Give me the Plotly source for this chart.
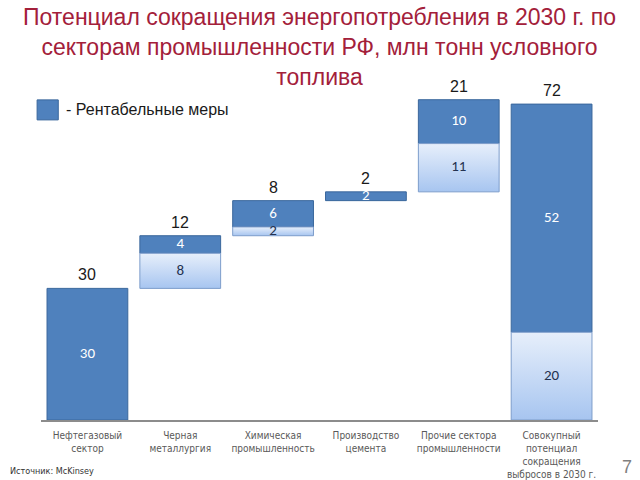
import plotly.graph_objects as go

categories = ["Нефтегазовый<br>сектор", "Черная<br>металлургия", "Химическая<br>промышленность",
              "Производство<br>цемента", "Прочие сектора<br>промышленности",
              "Совокупный<br>потенциал<br>сокращения<br>выбросов в 2030 г."]
light_vals = [0, 8, 2, 0, 11, 20]
dark_vals = [30, 4, 6, 2, 10, 52]
total_labels = [30, 12, 8, 2, 21, 72]

totals = [l + d for l, d in zip(light_vals, dark_vals)]
starts = []
acc = 0
for i, t in enumerate(totals):
    if i == len(totals) - 1:
        starts.append(0)
    else:
        starts.append(acc)
        acc += t
dark_base = [s + l for s, l in zip(starts, light_vals)]
tops = [s + t for s, t in zip(starts, totals)]
light_mid = [s + l / 2 for s, l in zip(starts, light_vals)]
dark_mid = [b + d / 2 for b, d in zip(dark_base, dark_vals)]
xs = list(range(len(categories)))
BAR_W = 0.87

inner_font = "Carlito, Liberation Sans, sans-serif"

fig = go.Figure()
# light (gradient) segments drawn as filled rectangles in data space
for x, s, v in zip(xs, starts, light_vals):
    if not v:
        continue
    x0, x1 = x - BAR_W / 2, x + BAR_W / 2
    fig.add_trace(go.Scatter(
        x=[x0, x1, x1, x0, x0], y=[s, s, s + v, s + v, s],
        mode="lines", fill="toself",
        fillgradient=dict(type="vertical", start=s, stop=s + v,
                          colorscale=[[0, "#A7C5F0"], [1, "#E7EFFB"]]),
        line=dict(color="#7D9DCB", width=1),
        hoverinfo="skip", showlegend=False))
fig.add_trace(go.Bar(
    x=xs, y=dark_vals, base=dark_base, width=BAR_W,
    marker=dict(color="#4F81BD", line=dict(color="#3A679C", width=1)),
    hoverinfo="skip", showlegend=False))
lx = [x for x, v in zip(xs, light_vals) if v]
fig.add_trace(go.Scatter(
    x=lx, y=[m for m, v in zip(light_mid, light_vals) if v], mode="text",
    text=[str(v) for v in light_vals if v], textposition="middle center",
    textfont=dict(family=inner_font, size=15, color="#243250"),
    hoverinfo="skip", showlegend=False))
fig.add_trace(go.Scatter(
    x=xs, y=dark_mid, mode="text", text=[str(v) for v in dark_vals],
    textposition="middle center",
    textfont=dict(family=inner_font, size=15, color="#FFFFFF"),
    hoverinfo="skip", showlegend=False))

for x, t, lab in zip(xs, tops, total_labels):
    fig.add_annotation(x=x, y=t, text=str(lab), showarrow=False, xanchor="center",
                       yanchor="bottom", yshift=3,
                       font=dict(family="Liberation Sans, Arial, sans-serif", size=16, color="#1A1A1A"))

fig.update_layout(
    width=640, height=480,
    margin=dict(l=41, r=42, t=69, b=60, autoexpand=False),
    paper_bgcolor="white", plot_bgcolor="white",
    barmode="overlay",
    xaxis=dict(tickmode="array", tickvals=xs, ticktext=categories, range=[-0.5, 5.5],
               showline=True, linecolor="#8C8C8C", linewidth=1.5, showgrid=False,
               zeroline=False, ticks="", ticklen=0, automargin=False, ticklabelstandoff=5,
               tickfont=dict(family="Liberation Sans Narrow, DejaVu Sans Condensed, sans-serif", size=10, color="#595959")),
    yaxis=dict(range=[0, 80], visible=False, showgrid=False, zeroline=False, automargin=False),
    font=dict(family="Liberation Sans, Arial, sans-serif"),
)

fig.add_annotation(
    text="Потенциал сокращения энергопотребления в 2030 г. по<br>секторам промышленности РФ, млн тонн условного<br>топлива",
    xref="paper", yref="paper", x=0.5, y=1.19, xanchor="center", yanchor="top", showarrow=False,
    font=dict(family="Liberation Sans, Arial, sans-serif", size=23, color="#A3203A"))
fig.add_shape(type="rect", xref="paper", yref="paper", x0=-0.007, x1=0.031, y0=0.855, y1=0.912,
              fillcolor="#4F81BD", line=dict(color="#3A679C", width=1))
fig.add_annotation(text="- Рентабельные меры", xref="paper", yref="paper", x=0.042, y=0.884,
                   xanchor="left", yanchor="middle", showarrow=False,
                   font=dict(family="Liberation Sans, Arial, sans-serif", size=16, color="#1A1A1A"))
fig.add_annotation(text="Источник: McKinsey", xref="paper", yref="paper", x=-0.059, y=-0.145,
                   xanchor="left", yanchor="middle", showarrow=False,
                   font=dict(family="Liberation Sans Narrow, DejaVu Sans Condensed, sans-serif", size=9, color="#333333"))
fig.add_annotation(text="7", xref="paper", yref="paper", x=1.064, y=-0.135,
                   xanchor="right", yanchor="middle", showarrow=False,
                   font=dict(family="Liberation Sans, Arial, sans-serif", size=18, color="#7F7F7F"))

fig.write_html("out.html", config={"displayModeBar": False},
               post_script="document.body.style.margin='0';document.body.style.overflow='hidden';")
